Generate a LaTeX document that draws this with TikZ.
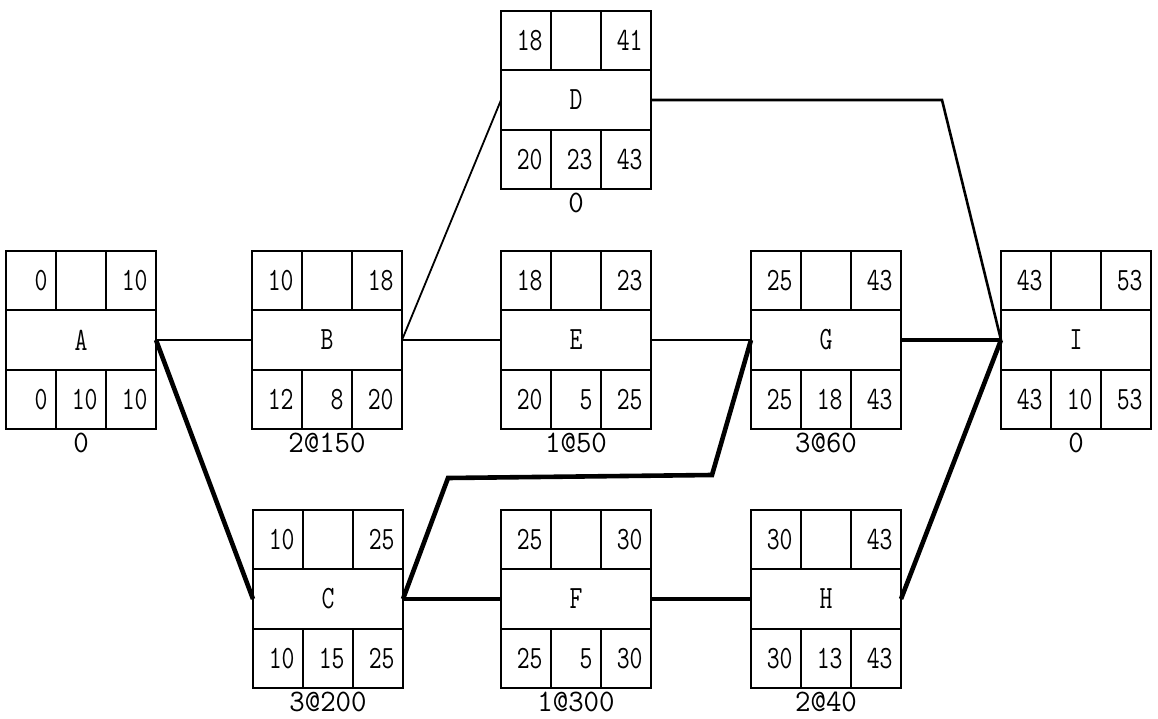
\documentclass[tikz,border=0pt]{standalone}
\usepackage{graphicx}
\usetikzlibrary{positioning}

\newcommand{\tw}[1]{\scalebox{1}[1.3]{#1}}
\newcommand{\tww}[1]{\scalebox{1.2}[1.25]{#1}}
% one activity box: name, position, letter, ES, EF, LS, slack, LF, crash note
\newcommand{\actnode}[9]{%
  \node[midrow] (#1) at #2 {\tw{#3}};
  \node[cell, anchor=south west] (#1-t1) at (#1.north west) {\tw{#4}};
  \node[cell, right=0pt of #1-t1] (#1-t2) {};
  \node[cell, right=0pt of #1-t2] (#1-t3) {\tw{#5}};
  \node[cell, anchor=north west] (#1-b1) at (#1.south west) {\tw{#6}};
  \node[cell, right=0pt of #1-b1] (#1-b2) {\tw{#7}};
  \node[cell, right=0pt of #1-b2] (#1-b3) {\tw{#8}};
  \node[tag, below=4pt of #1-b2] (#1-tag) {\tww{#9}};
}

\begin{document}
\begin{tikzpicture}[
  x=1pt, y=-1pt,
  midrow/.style={rectangle, draw, line width=1.6pt, minimum width=150pt, minimum height=60pt,
                 inner sep=0pt, outer sep=0pt, font=\fontsize{25}{29}\selectfont\ttfamily},
  cell/.style={rectangle, draw, line width=1.6pt, minimum height=59pt, text width=33pt,
               inner xsep=8.5pt, inner ysep=0pt, outer sep=0pt, align=right,
               font=\fontsize{25}{29}\selectfont\ttfamily},
  tag/.style={inner sep=0pt, font=\fontsize{25}{29}\selectfont\ttfamily},
  link/.style={line width=1.8pt},
  dlink/.style={line width=2.6pt},
  critical/.style={line width=4.6pt}
]
\useasboundingbox (0,0) rectangle (1158,719);

% --- Activities ---
\actnode{A}{(81,340)}{A}{0}{10}{0}{10}{10}{0}
\actnode{B}{(327,340)}{B}{10}{18}{12}{8}{20}{2@150}
\actnode{D}{(576,100)}{D}{18}{41}{20}{23}{43}{0}
\actnode{E}{(576,340)}{E}{18}{23}{20}{5}{25}{1@50}
\actnode{G}{(826,340)}{G}{25}{43}{25}{18}{43}{3@60}
\actnode{I}{(1076,340)}{I}{43}{53}{43}{10}{53}{0}
\actnode{C}{(328,599)}{C}{10}{25}{10}{15}{25}{3@200}
\actnode{F}{(576,599)}{F}{25}{30}{25}{5}{30}{1@300}
\actnode{H}{(826,599)}{H}{30}{43}{30}{13}{43}{2@40}

% --- Bends ---
\coordinate (di1) at (942,100);
\coordinate (cg1) at (448,478);
\coordinate (cg2) at (712,475);

% --- Links ---
\draw[link] (A.east) -- (B.west);
\draw[link] (B.east) -- (D.west);
\draw[link] (B.east) -- (E.west);
\draw[link] (E.east) -- (G.west);
\draw[dlink] (D.east) -- (di1) -- (I.west);

\draw[critical] (A.east) -- (C.west);
\draw[critical] (C.east) -- (F.west);
\draw[critical] (F.east) -- (H.west);
\draw[critical] (C.east) -- (cg1) -- (cg2) -- (G.west);
\draw[critical] (G.east) -- (I.west);
\draw[critical] (H.east) -- (I.west);

\end{tikzpicture}
\end{document}
